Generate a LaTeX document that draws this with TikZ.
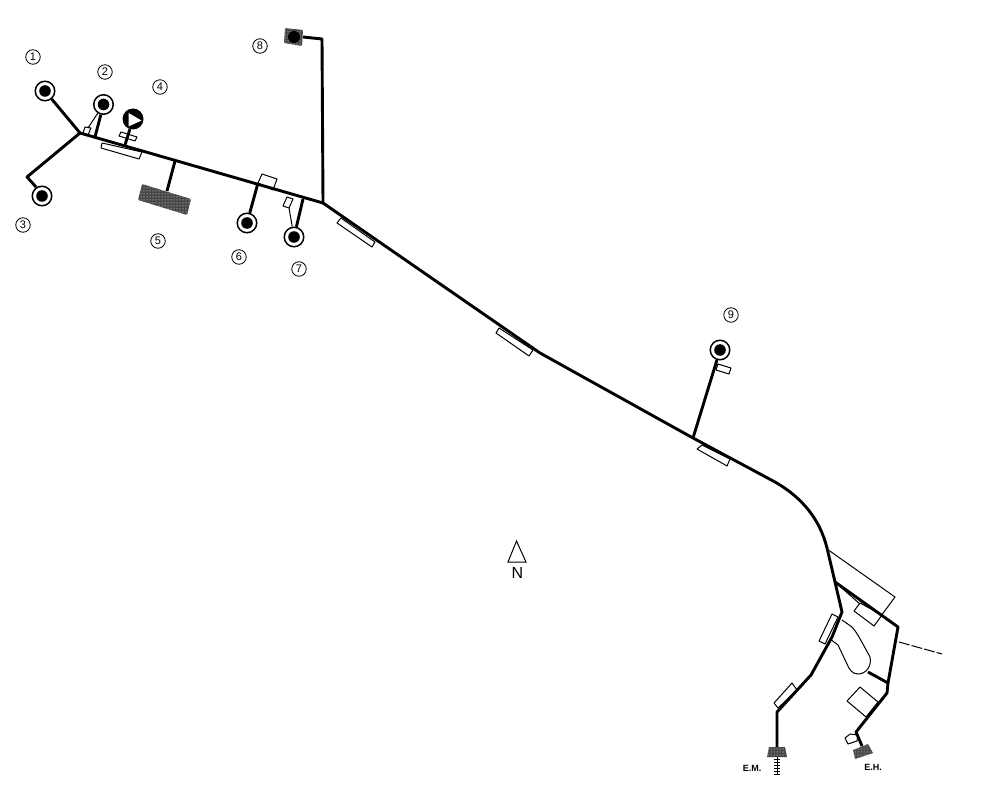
\documentclass[tikz,border=0pt]{standalone}
\usepackage{fontspec}
\setmainfont{Liberation Sans}
\usetikzlibrary{calc}
\usetikzlibrary{patterns}

\tikzset{
  road/.style={black, line width=2.9pt, line join=round},
  thinline/.style={black, line width=1pt, line join=round},
  plot/.style={thinline, fill=white},
  well/.style={circle, draw=black, line width=1.5pt, fill=white, minimum size=19.5pt, inner sep=0pt},
  tag/.style={circle, draw=black, line width=.8pt, minimum size=14.5pt, inner sep=0pt, font=\fontsize{11}{11}\selectfont},
  stipple/.style={fill=black!72, postaction={pattern=dots, pattern color=white}},
  small/.style={font=\bfseries\fontsize{9}{9}\selectfont, inner sep=0pt},
}

\begin{document}
\begin{tikzpicture}[x=1pt, y=-1pt]
\useasboundingbox[fill=white] (0,0) rectangle (1000,794);

% road points
\coordinate (fork) at (80,133);
\coordinate (elbow) at (27,177);
\coordinate (bend) at (323,203);
\coordinate (top) at (322,39);
\coordinate (mid) at (540,353);
\coordinate (spur) at (693,438);
\coordinate (gate) at (835,582);
\coordinate (split) at (842,612);
\coordinate (east) at (898,627);
\coordinate (southeast) at (888,683);
\coordinate (loop) at (868,672);
\coordinate (stem) at (777,712);

% thin plots
\draw[plot] (827,549)--(895,597)--(878,620)--(835,582)--cycle;
\draw[plot] (860,603)--(854,611)--(874,626)--(882,615)--cycle;
\draw[plot] (847,701)--(860,687)--(878,702)--(866,717)--cycle;
\draw[thinline] (842,620)--(852,627) .. controls (857,632) and (865,648) .. (870,657)
  .. controls (872,666) and (866,674) .. (858,674) .. controls (852,674) and (849,669) .. (847,664)
  -- (838,645) -- (830,639);
\draw[thinline, dash pattern=on 11pt off 2pt] (899,642)--(942,654);

% sidings
\draw[plot] (102,143)--(142,152)--(139,159)--(101,148)--cycle;
\draw[plot] (341,218)--(375,242)--(372,247)--(337,223)--cycle;
\draw[plot] (499,328)--(533,350)--(529,356)--(496,333)--cycle;
\draw[plot] (702,445)--(730,459)--(727,466)--(697,449)--cycle;
\draw[plot] (262,174)--(277,179)--(273,190)--(258,183)--cycle;
\draw[plot] (832,614)--(838,617)--(825,644)--(819,641)--cycle;
\draw[plot] (792,683)--(797,690)--(778,708)--(774,703)--cycle;
\draw[plot] (85,127)--(91,128)--(88,135)--(83,133)--cycle;
\draw[plot] (287,197)--(293,199)--(289,208)--(283,206)--cycle;
\draw[plot] (718,364)--(731,368)--(729,374)--(716,370)--cycle;
\draw[plot] (121,132)--(137,137)--(135,141)--(119,136)--cycle;
\draw[plot] (850,734)--(858,735)--(857,741)--(848,744)--(845,738)--cycle;

% main road
\draw[road] (fork)--(bend)--(mid)--(spur)--(775,482)
  .. controls (803,498) and (820,520) .. (827,548)--(gate)--(split)--(832,637)--(811,675)--(stem)--(777,747);
\draw[road] (gate)--(east)--(southeast)--(887,693)--(856,732)--(862,746);
\draw[road] (loop)--(southeast);
\draw[road] (bend)--(top)--(303,37);
\draw[road] (fork)--(elbow)--(36,187);

% wells
\node[well] (well1) at (45,91) {};
\node[well] (well2) at (103.5,104.5) {};
\node[well] (well3) at (42,196) {};
\node[well] (well6) at (247,223) {};
\node[well] (well7) at (294,237) {};
\node[well] (well9) at (720,350) {};
\foreach \w in {well1,well2,well3,well6,well7,well9}
  \fill[black] (\w.center) circle (5.8);
\node[circle, fill=black, minimum size=21pt, inner sep=0pt] (well4) at (133,119) {};
\fill[white] (128.5,113)--(141.5,120.5)--(128.5,126.5)--cycle;

% branches to wells
\draw[road] (well1)--(fork);
\draw[road] (well2)--(95,137);
\draw[road] (well4)--(125,145);
\draw[thinline] (well2)--(88,128);
\draw[road] (well6)--(258,183);
\draw[road] (well7)--(303,199);
\draw[thinline] (well7)--(289,208);
\draw[road] (well9)--(spur);
\draw[road] (well3)--(36,187);
\draw[road] (175,161)--(167,191);

% stippled plots
\fill[stipple, rounded corners=1pt] (142,184)--(191,199)--(187,215)--(138,200)--cycle;
\fill[stipple, rounded corners=1pt] (285,28)--(303,30)--(302,46)--(284,43)--cycle;
\fill[black] (294,37) circle (6);

% railheads
\fill[stipple] (769,747)--(785,747)--(787,757)--(767,757)--cycle;
\fill[stipple] (853,750)--(868,744)--(873,753)--(855,759)--cycle;
\draw[black, line width=1pt] (777,757)--(777,775);
\foreach \y in {759,762,...,775}
  \draw[black, line width=.8pt] (774,\y)--(780,\y);

% labels
\foreach \n/\x/\y in {1/33/57, 2/105/72, 3/23/225, 4/160/87, 5/158/241, 6/239/257, 7/299/269, 8/260/46, 9/731/315}
  \node[tag] (tag\n) at (\x,\y) {\n};
\node[small] (em) at (752,768) {E.M.};
\node[small] (eh) at (873,767) {E.H.};
\draw[black, line width=1pt] (516.5,541)--(526,562)--(508,562)--cycle;
\node[font=\fontsize{16}{16}\selectfont, inner sep=0pt] (north) at (517.5,573) {N};
\end{tikzpicture}
\end{document}
